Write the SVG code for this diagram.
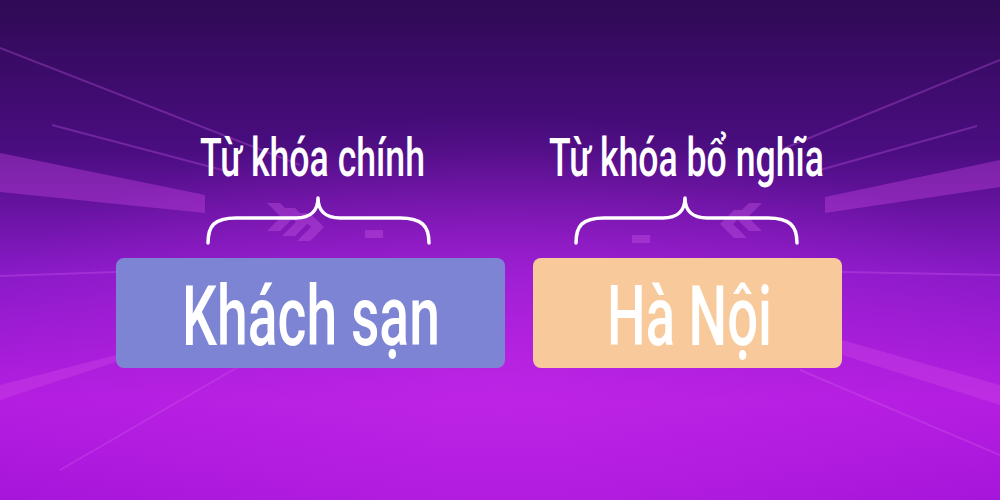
<svg xmlns="http://www.w3.org/2000/svg" width="1000" height="500" viewBox="0 0 1000 500">
<defs>
<linearGradient id="bg" x1="0" y1="0" x2="0" y2="1">
<stop offset="0" stop-color="#2f0a55"/>
<stop offset="0.3" stop-color="#4a0d80"/>
<stop offset="0.55" stop-color="#8a1ac8"/>
<stop offset="0.8" stop-color="#b31de0"/>
<stop offset="1" stop-color="#a615da"/>
</linearGradient>
<radialGradient id="glow" cx="0.5" cy="0.78" r="0.55">
<stop offset="0" stop-color="#c428e8" stop-opacity="0.6"/>
<stop offset="1" stop-color="#c428e8" stop-opacity="0"/>
</radialGradient>
<style>
.deco{fill:#d04ae8;opacity:0.35}
.dline{stroke:#d060f0;stroke-width:2;opacity:0.3;fill:none}
.brace{fill:none;stroke:#ffffff;stroke-width:3.5;stroke-linecap:round;stroke-linejoin:round}
.lbl{font-family:Roboto,"Liberation Sans",Arial,sans-serif;fill:#ffffff;font-weight:500}
.big{font-size:84px}
.small{font-size:53px}
</style>
</defs>
<rect width="1000" height="500" fill="url(#bg)"/>
<rect width="1000" height="500" fill="url(#glow)"/>
<g id="decor">
<line class="dline" x1="0" y1="48" x2="300" y2="165"/>
<line class="dline" x1="52" y1="125" x2="230" y2="172"/>
<polygon class="deco" points="0,153 205,195 205,213 0,192"/>
<line class="dline" x1="0" y1="276" x2="116" y2="272"/>
<polygon class="deco" points="0,385 116,355 116,362 0,400" opacity="0.25"/>
<line class="dline" x1="60" y1="470" x2="250" y2="360" opacity="0.2"/>
<line class="dline" x1="1000" y1="60" x2="780" y2="150"/>
<line class="dline" x1="977" y1="126" x2="820" y2="170"/>
<polygon class="deco" points="825,197 1000,160 1000,187 825,213"/>
<line class="dline" x1="842" y1="272" x2="1000" y2="275"/>
<polygon class="deco" points="842,340 1000,385 1000,405 842,355" opacity="0.25"/>
<line class="dline" x1="800" y1="370" x2="1000" y2="455" opacity="0.25"/>
<g opacity="0.3" fill="#d868f0">
<polygon points="267,203 280,203 294,217 280,231 267,231 281,217"/>
<polygon points="282,208 295,208 309,222 295,236 282,236 296,222"/>
<polygon points="297,213 310,213 324,227 310,241 297,241 311,227"/>
<rect x="365" y="230" width="18" height="8"/>
<polygon points="762,203 749,203 735,217 749,231 762,231 748,217"/>
<polygon points="747,210 734,210 720,224 734,238 747,238 733,224"/>
<rect x="632" y="235" width="18" height="8"/>
</g>
</g>
<g id="label-main">
<text class="lbl small" x="200" y="176" textLength="225" lengthAdjust="spacingAndGlyphs">Từ khóa chính</text>
<path class="brace" d="M208 243 C208 226 214 218 236 218 L296 218 C311 218 318 210 318 198 C318 210 325 218 340 218 L400 218 C422 218 429 226 429 243"/>
</g>
<g id="label-modifier">
<text class="lbl small" x="549" y="176" textLength="275" lengthAdjust="spacingAndGlyphs">Từ khóa bổ nghĩa</text>
<path class="brace" d="M576 243 C576 226 582 218 604 218 L663 218 C678 218 685 210 685 198 C685 210 692 218 707 218 L768 218 C790 218 797 226 797 243"/>
</g>
<g id="node-khach-san">
<rect x="116" y="258" width="389" height="110" rx="8" fill="#7d84d4"/>
<text class="lbl big" x="182" y="345" textLength="258" lengthAdjust="spacingAndGlyphs">Khách sạn</text>
</g>
<g id="node-ha-noi">
<rect x="533" y="258" width="309" height="110" rx="8" fill="#f8ca9b"/>
<text class="lbl big" x="607" y="345" textLength="165" lengthAdjust="spacingAndGlyphs">Hà Nội</text>
</g>
</svg>
